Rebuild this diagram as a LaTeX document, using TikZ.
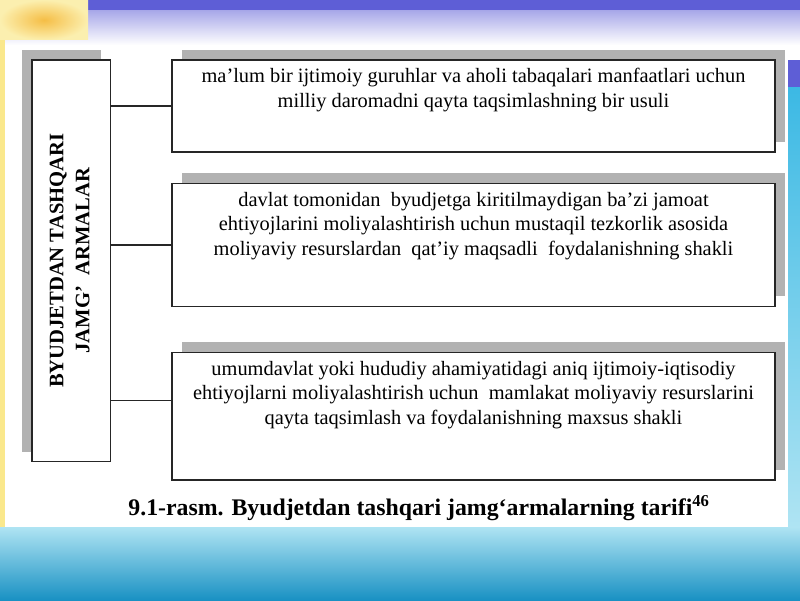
\documentclass[tikz,border=0pt]{standalone}
\usepackage{fontspec}
\setmainfont{Liberation Serif}
\usepackage{graphicx}
\usetikzlibrary{shadows}

\definecolor{lila}{RGB}{94,94,214}
\definecolor{gelb}{RGB}{250,232,140}
\definecolor{orangegelb}{RGB}{245,190,70}
\definecolor{tuerkis}{RGB}{60,185,228}
\definecolor{hellcyan}{RGB}{175,228,243}
\definecolor{dunkeltuerkis}{RGB}{25,145,195}

\tikzset{
  kasten/.style={draw=black!85, line width=1.2pt, fill=white, inner sep=0pt},
  schattenrechts/.style={drop shadow={shadow xshift=10pt, shadow yshift=10pt, fill=black!30, opacity=1}},
  schattenlinks/.style={drop shadow={shadow xshift=-10pt, shadow yshift=10pt, fill=black!30, opacity=1}},
  linie/.style={line width=1.2pt, black!85},
}

\newcommand{\kastentext}[2]{\parbox[c][#1][t]{603pt}{\fontsize{20.4}{24.5}\selectfont\centering\rule{0pt}{23pt}#2}}

\begin{document}
\begin{tikzpicture}[x=1pt,y=1pt]
   \useasboundingbox (0,0) rectangle (800,600);
   % Hintergrund
   \fill[white] (0,0) rectangle (800,600);
   \shade[top color=lila!55!white, bottom color=white] (0,555) rectangle (800,590);
   \fill[lila] (0,590) rectangle (800,600);
   \shade[inner color=orangegelb, outer color=gelb!70] (0,560) rectangle (88,600);
   \fill[gelb] (0,40) rectangle (5,560);
   \shade[top color=hellcyan, middle color=tuerkis, bottom color=dunkeltuerkis] (0,0) rectangle (800,73);
   \fill[lila] (788,512) rectangle (800,540);
   \shade[top color=tuerkis, bottom color=hellcyan] (788,73) rectangle (800,512);

   \node[kasten, schattenlinks, minimum width=78.5pt, minimum height=401.5pt] (haupt) at (71.25,339.25)
      {\rotatebox{90}{\fontsize{20.6}{26}\selectfont\bfseries\begin{tabular}{@{}c@{}}BYUDJETDAN TASHQARI\\JAMG’~~ARMALAR\end{tabular}}};

   \node[kasten, schattenrechts] (def1) at (473.5,494) {\kastentext{92pt}{ma’lum bir ijtimoiy guruhlar va aholi tabaqalari manfaatlari uchun\\milliy daromadni qayta taqsimlashning bir usuli}};
   \node[kasten, schattenrechts] (def2) at (473.5,355) {\kastentext{123pt}{davlat tomonidan~ byudjetga kiritilmaydigan ba’zi jamoat\\ehtiyojlarini moliyalashtirish uchun mustaqil tezkorlik asosida\\moliyaviy resurslardan~ qat’iy maqsadli~ foydalanishning shakli}};
   \node[kasten, schattenrechts] (def3) at (473.5,183.75) {\kastentext{127.5pt}{umumdavlat yoki hududiy ahamiyatidagi aniq ijtimoiy-iqtisodiy\\ehtiyojlarni moliyalashtirish uchun~ mamlakat moliyaviy resurslarini\\qayta taqsimlash va foydalanishning maxsus shakli}};

   \coordinate (k3) at ([yshift=16pt]def3.west);
   \draw[linie] (haupt.east |- def1.west) -- (def1.west);
   \draw[linie] (haupt.east |- def2.west) -- (def2.west);
   \draw[linie] (haupt.east |- k3) -- (k3);

   \node[font=\fontsize{23.8}{28}\selectfont\bfseries] (rasm) at (419,92) {9.1-rasm. Byudjetdan tashqari jamg‘armalarning tarifi\textsuperscript{46}};
\end{tikzpicture}
\end{document}
